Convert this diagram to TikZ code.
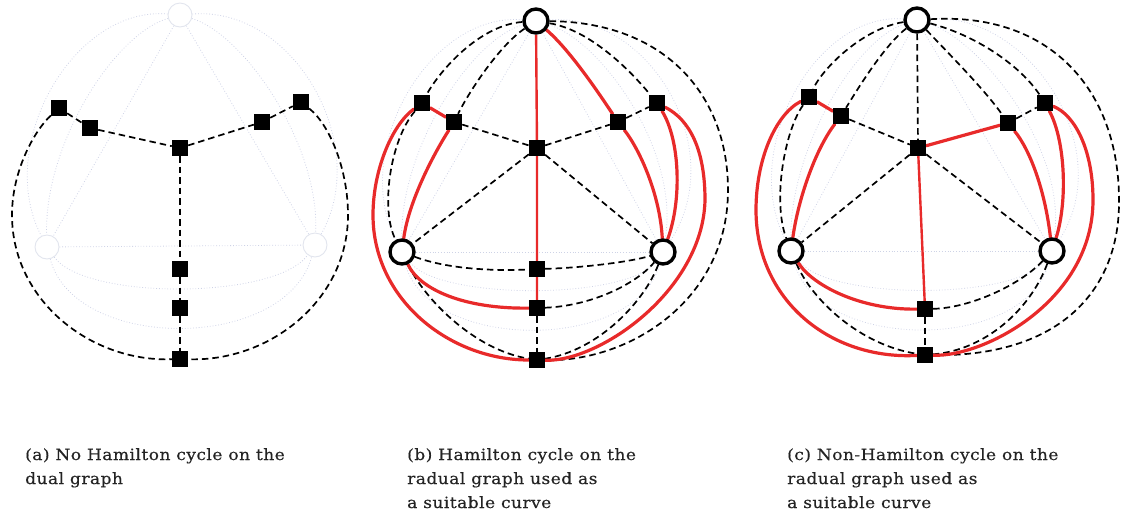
\documentclass[tikz,border=0pt]{standalone}
\usepackage{fontspec}
\newfontfamily\capfont{DejaVu Serif}[FakeStretch=1.1,LetterSpace=3,FakeBold=0.4]
\pgfdeclarelayer{bg}
\pgfdeclarelayer{faint}
\pgfsetlayers{faint,bg,main}
\definecolor{cycred}{RGB}{232,42,42}
\definecolor{primal}{RGB}{206,211,230}
\definecolor{ghostline}{RGB}{226,229,238}
\definecolor{captionink}{RGB}{35,35,35}
\tikzset{
  vtx/.style={circle,draw=black,fill=white,line width=3.4pt,minimum size=24pt,inner sep=0pt},
  ghost/.style={circle,draw=ghostline,fill=white,line width=0.9pt,minimum size=24pt,inner sep=0pt},
  face/.style={rectangle,fill=black,minimum size=16pt,inner sep=0pt},
  radial/.style={draw=black,line width=1.7pt,dash pattern=on 6.5pt off 4pt},
  cyc/.style={draw=cycred,line width=3.2pt,line cap=round},
  cycthin/.style={draw=cycred,line width=2.4pt},
  pedge/.style={draw=primal,line width=0.8pt,dotted},
  captext/.style={anchor=base west,inner sep=0pt,text=captionink,font=\capfont\fontsize{15.5}{24}\selectfont}
}
\begin{document}
\begin{tikzpicture}[x=1pt,y=-1pt]
\useasboundingbox (0,0) rectangle (1121,515);

% ---------------- (a) dual graph ----------------
\node[ghost] (aT) at (180,15) {};
\node[ghost] (aL) at (47,247) {};
\node[ghost] (aR) at (315,245) {};
\node[face] (aC)  at (180,148) {};
\node[face] (aS1) at (59,108) {};
\node[face] (aS2) at (90,128) {};
\node[face] (aS3) at (262,122) {};
\node[face] (aS4) at (301,102) {};
\node[face] (aB1) at (180,269) {};
\node[face] (aB2) at (180,308) {};
\node[face] (aB3) at (180,359) {};
\begin{pgfonlayer}{faint}
  \draw[pedge] (aT) -- (aL);
  \draw[pedge] (aT) -- (aR);
  \draw[pedge] (aL) -- (aR);
  \draw[pedge] (aT) .. controls (114,34) and (44,145) .. (aL);
  \draw[pedge] (aT) .. controls (74,6) and (-6,145) .. (aL);
  \draw[pedge] (aT) .. controls (244,34) and (320,145) .. (aR);
  \draw[pedge] (aT) .. controls (294,6) and (372,145) .. (aR);
  \draw[pedge] (aL) .. controls (85,300) and (275,300) .. (aR);
  \draw[pedge] (aL) .. controls (75,352) and (285,352) .. (aR);
\end{pgfonlayer}
\begin{pgfonlayer}{bg}
  \draw[radial] (aS1) -- (aS2) -- (aC) -- (aS3) -- (aS4);
  \draw[radial] (aC) -- (aB1) -- (aB2) -- (aB3);
  \draw[radial] (aS1) .. controls (35,130) and (12,170) .. (12,215)
                      .. controls (12,300) and (90,362) .. (aB3);
  \draw[radial] (aS4) .. controls (330,125) and (348,170) .. (348,215)
                      .. controls (348,300) and (270,362) .. (aB3);
\end{pgfonlayer}

% ---------------- (b) Hamilton cycle on the radial graph ----------------
\node[vtx] (bT) at (536,21) {};
\node[vtx] (bL) at (402,252) {};
\node[vtx] (bR) at (663,252) {};
\node[face] (bC)  at (537,148) {};
\node[face] (bS1) at (422,103) {};
\node[face] (bS2) at (454,122) {};
\node[face] (bS3) at (618,122) {};
\node[face] (bS4) at (657,103) {};
\node[face] (bB1) at (537,269) {};
\node[face] (bB2) at (537,308) {};
\node[face] (bB3) at (537,360) {};
\begin{pgfonlayer}{faint}
  \draw[pedge] (bT) -- (bL);
  \draw[pedge] (bT) -- (bR);
  \draw[pedge] (bL) -- (bR);
  \draw[pedge] (bT) .. controls (470,40) and (400,150) .. (bL);
  \draw[pedge] (bT) .. controls (430,12) and (350,150) .. (bL);
  \draw[pedge] (bT) .. controls (600,40) and (680,150) .. (bR);
  \draw[pedge] (bT) .. controls (650,12) and (730,150) .. (bR);
  \draw[pedge] (bL) .. controls (440,300) and (625,300) .. (bR);
  \draw[pedge] (bL) .. controls (430,352) and (635,352) .. (bR);
\end{pgfonlayer}
\begin{pgfonlayer}{bg}
  % radial edges
  \draw[radial] (bT) .. controls (480,25) and (440,70) .. (bS1);
  \draw[radial] (bT) .. controls (500,45) and (470,90) .. (bS2);
  \draw[radial] (bS1) .. controls (390,140) and (380,210) .. (bL);
  \draw[radial] (bS2) -- (bC);
  \draw[radial] (bC) -- (bL);
  \draw[radial] (bC) -- (bR);
  \draw[radial] (bC) -- (bS3);
  \draw[radial] (bS3) -- (bS4);
  \draw[radial] (bT) .. controls (590,30) and (630,70) .. (bS4);
  \draw[radial] (bT) .. controls (665,22) and (728,95) .. (728,190)
                     .. controls (728,300) and (630,362) .. (bB3);
  \draw[radial] (bL) .. controls (425,300) and (475,350) .. (bB3);
  \draw[radial] (bR) .. controls (645,300) and (600,350) .. (bB3);
  \draw[radial] (bL) .. controls (450,270) and (500,271) .. (bB1);
  \draw[radial] (bB1) .. controls (580,268) and (630,262) .. (bR);
  \draw[radial] (bB2) .. controls (590,306) and (635,285) .. (bR);
  \draw[radial] (bB2) -- (bB3);
  % the cycle
  \draw[cycthin] (bT) -- (bC) -- (bB1) -- (bB2);
  \draw[cyc] (bB2) .. controls (465,309) and (420,290) .. (bL);
  \draw[cyc] (bL) .. controls (408,205) and (430,160) .. (bS2);
  \draw[cyc] (bS2) -- (bS1);
  \draw[cyc] (bS1) .. controls (392,125) and (373,170) .. (373,215)
                   .. controls (373,300) and (450,360) .. (bB3);
  \draw[cyc] (bB3) .. controls (600,362) and (703,290) .. (705,200)
                   .. controls (705,150) and (690,120) .. (bS4);
  \draw[cyc] (bS4) .. controls (680,140) and (682,200) .. (bR);
  \draw[cyc] (bR) .. controls (660,195) and (640,150) .. (bS3);
  \draw[cyc] (bS3) .. controls (600,95) and (570,50) .. (bT);
\end{pgfonlayer}

% ---------------- (c) non-Hamilton cycle ----------------
\node[vtx] (cT) at (917,20) {};
\node[vtx] (cL) at (791,251) {};
\node[vtx] (cR) at (1052,251) {};
\node[face] (cC)  at (918,148) {};
\node[face] (cS1) at (809,97) {};
\node[face] (cS2) at (841,116) {};
\node[face] (cS3) at (1008,123) {};
\node[face] (cS4) at (1045,103) {};
\node[face] (cB2) at (925,309) {};
\node[face] (cB3) at (925,355) {};
\begin{pgfonlayer}{faint}
  \draw[pedge] (cT) -- (cL);
  \draw[pedge] (cT) -- (cR);
  \draw[pedge] (cL) -- (cR);
  \draw[pedge] (cT) .. controls (855,40) and (790,150) .. (cL);
  \draw[pedge] (cT) .. controls (815,12) and (740,150) .. (cL);
  \draw[pedge] (cT) .. controls (980,40) and (1068,150) .. (cR);
  \draw[pedge] (cT) .. controls (1030,12) and (1118,150) .. (cR);
  \draw[pedge] (cL) .. controls (830,300) and (1014,300) .. (cR);
  \draw[pedge] (cL) .. controls (820,352) and (1024,352) .. (cR);
\end{pgfonlayer}
\begin{pgfonlayer}{bg}
  % radial edges
  \draw[radial] (cT) .. controls (865,28) and (825,65) .. (cS1);
  \draw[radial] (cT) .. controls (885,45) and (860,85) .. (cS2);
  \draw[radial] (cT) -- (cC);
  \draw[radial] (cT) .. controls (950,55) and (985,90) .. (cS3);
  \draw[radial] (cT) .. controls (975,35) and (1020,65) .. (cS4);
  \draw[radial] (cT) .. controls (1050,12) and (1119,90) .. (1119,200)
                     .. controls (1120,290) and (1060,357) .. (cB3);
  \draw[radial] (cS2) -- (cC);
  \draw[radial] (cC) -- (cL);
  \draw[radial] (cC) -- (cR);
  \draw[radial] (cS3) -- (cS4);
  \draw[radial] (cS1) .. controls (785,130) and (772,200) .. (cL);
  \draw[radial] (cL) .. controls (812,300) and (860,345) .. (cB3);
  \draw[radial] (cB2) .. controls (970,308) and (1020,285) .. (cR);
  \draw[radial] (cR) .. controls (1030,310) and (985,350) .. (cB3);
  \draw[radial] (cB2) -- (cB3);
  % the cycle
  \draw[cycthin] (cC) -- (cB2);
  \draw[cyc] (cB2) .. controls (860,310) and (812,285) .. (cL);
  \draw[cyc] (cL) .. controls (798,200) and (815,150) .. (cS2);
  \draw[cyc] (cS2) -- (cS1);
  \draw[cyc] (cS1) .. controls (775,115) and (756,160) .. (756,210)
                   .. controls (756,300) and (830,360) .. (cB3);
  \draw[cyc] (cB3) .. controls (985,357) and (1093,300) .. (1093,200)
                   .. controls (1093,150) and (1075,115) .. (cS4);
  \draw[cyc] (cS4) .. controls (1065,140) and (1068,200) .. (cR);
  \draw[cyc] (cR) .. controls (1045,190) and (1030,150) .. (cS3);
  \draw[cyc] (cS3) -- (cC);
\end{pgfonlayer}

% ---------------- captions ----------------
\node[captext] (capa1) at (25,460) {(a) No Hamilton cycle on the};
\node[captext] (capa2) at (25,484) {dual graph};
\node[captext] (capb1) at (407,460) {(b) Hamilton cycle on the};
\node[captext] (capb2) at (407,484) {radual graph used as};
\node[captext] (capb3) at (407,508) {a suitable curve};
\node[captext] (capc1) at (787,460) {(c) Non-Hamilton cycle on the};
\node[captext] (capc2) at (787,484) {radual graph used as};
\node[captext] (capc3) at (787,508) {a suitable curve};
\end{tikzpicture}
\end{document}
